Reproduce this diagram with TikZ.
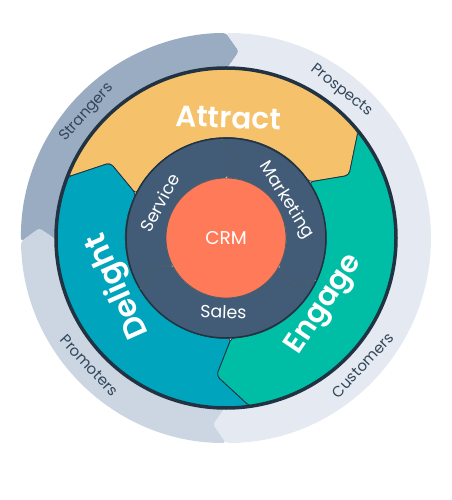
\documentclass[tikz,border=0pt]{standalone}
\usepackage{fontspec}
\setmainfont{Poppins}[BoldFont={* SemiBold}]

\definecolor{strangergray}{HTML}{99ACC2}
\definecolor{promotergray}{HTML}{CBD6E2}
\definecolor{prospectgray}{HTML}{E5EAF2}
\definecolor{ringline}{HTML}{213343}
\definecolor{attractyellow}{HTML}{F5C26B}
\definecolor{engageteal}{HTML}{00BDA5}
\definecolor{delightblue}{HTML}{00A4BD}
\definecolor{hubnavy}{HTML}{425B76}
\definecolor{crmorange}{HTML}{FF7A59}
\definecolor{labeldark}{HTML}{33475B}

\tikzset{
  outerlabel/.style={text=labeldark, inner sep=0pt, font=\fontsize{15}{15}\selectfont},
  stagelabel/.style={text=white, anchor=base, inner sep=0pt, font=\bfseries\fontsize{29.5}{29.5}\selectfont},
  hublabel/.style={text=white, inner sep=0pt, font=\fontsize{17.5}{17.5}\selectfont},
  stagepiece/.style={draw=ringline, line width=0.8pt, rounded corners=4pt},
  hubpiece/.style={fill=hubnavy, draw=ringline!80, line width=0.7pt, rounded corners=3pt}
}

\begin{document}
\begin{tikzpicture}[x=1pt,y=1pt]
\useasboundingbox (-226,-262) rectangle (225,238);

    % outer ring
    \fill[strangergray, rounded corners=3pt] (181:205) arc[start angle=181, end angle=90, radius=205] -- (86:187) -- (90:168) arc[start angle=90, end angle=181, radius=168] -- (177:187) -- cycle;
    \fill[prospectgray, rounded corners=3pt] (90:205) arc[start angle=90, end angle=-90, radius=205] -- (-94:187) -- (-90:168) arc[start angle=-90, end angle=90, radius=168] -- (86:187) -- cycle;
    \fill[promotergray, rounded corners=3pt] (270:205) arc[start angle=270, end angle=181, radius=205] -- (177:187) -- (181:168) arc[start angle=181, end angle=270, radius=168] -- (266:187) -- cycle;

    % stages
    \filldraw[stagepiece, fill=attractyellow] (159:170) arc[start angle=159, end angle=39, radius=170] -- (27:138) -- (34:100) arc[start angle=34, end angle=154, radius=100] -- (147:138) -- cycle;
    \filldraw[stagepiece, fill=engageteal] (39:170) arc[start angle=39, end angle=-82, radius=170] -- (-94:138) -- (-87:100) arc[start angle=-87, end angle=34, radius=100] -- (27:138) -- cycle;
    \filldraw[stagepiece, fill=delightblue] (278:170) arc[start angle=278, end angle=159, radius=170] -- (147:138) -- (154:100) arc[start angle=154, end angle=273, radius=100] -- (266:138) -- cycle;
    \draw[ringline, line width=3.5pt] (0,0) circle (170);

    % hub
    \filldraw[hubpiece] (93:100) arc[start angle=93, end angle=-25, radius=100] -- (-35:80) -- (-28:60) arc[start angle=-28, end angle=90, radius=60] -- (83:80) -- cycle;
    \filldraw[hubpiece] (335:100) arc[start angle=335, end angle=211, radius=100] -- (201:80) -- (208:60) arc[start angle=208, end angle=332, radius=60] -- (-35:80) -- cycle;
    \filldraw[hubpiece] (211:100) arc[start angle=211, end angle=93, radius=100] -- (83:80) -- (90:60) arc[start angle=90, end angle=208, radius=60] -- (201:80) -- cycle;
    \draw[ringline, line width=1.5pt] (0,0) circle (100);
    \filldraw[fill=crmorange, draw=ringline!80, line width=0.8pt] (0,0) circle (60);

    \node[outerlabel, rotate=48] (strangers) at (138:187) {Strangers};
    \node[outerlabel, rotate=-38] (prospects) at (52:187) {Prospects};
    \node[outerlabel, rotate=47] (customers) at (-43:187) {Customers};
    \node[outerlabel, rotate=-47] (promoters) at (223:187) {Promoters};

    \node[stagelabel, rotate=-2] (attract) at (89:110) {Attract};
    \node[stagelabel, rotate=56] (engage) at (-34:126) {Engage};
    \node[stagelabel, rotate=114, font=\bfseries\fontsize{31}{31}\selectfont] (delight) at (204:110) {Delight};

    \node[hublabel, rotate=-58] (marketing) at (32:71) {Marketing};
    \node[hublabel, rotate=-2] (sales) at (268:74) {Sales};
    \node[hublabel, rotate=62] (service) at (152:75) {Service};
    \node[hublabel, font=\fontsize{18.5}{18.5}\selectfont] (crm) at (0,0) {CRM};
\end{tikzpicture}
\end{document}
